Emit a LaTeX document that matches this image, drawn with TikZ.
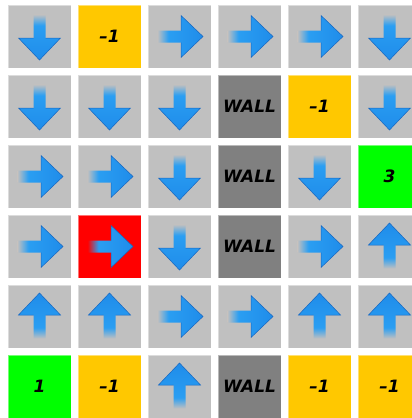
\documentclass[tikz,border=0pt]{standalone}
\usepackage{fontspec}
\setmainfont{DejaVu Sans}
\usepackage{tikz}

\definecolor{cellgray}{HTML}{C0C0C0}
\definecolor{wallgray}{HTML}{808080}
\definecolor{pitorange}{HTML}{FFC800}
\definecolor{goalgreen}{HTML}{00FF00}
\definecolor{startred}{HTML}{FF0000}
\colorlet{arrtail}{cellgray}
\definecolor{arrmid}{HTML}{2A9EF2}
\definecolor{arrtip}{HTML}{1F8CEA}
\definecolor{arredge}{HTML}{1565C0}

% the tail colour is taken from the cell behind the arrow
\pgfdeclarehorizontalshading[arrtail]{arrfade}{100bp}{color(0bp)=(arrtail); color(25bp)=(arrtail); color(37bp)=(arrmid); color(75bp)=(arrtip); color(100bp)=(arrtip)}

\newcommand{\arrbody}{(-22,-6) -- (1.5,-6) -- (1.5,-21) -- (23.5,0) -- (1.5,21) -- (1.5,6) -- (-22,6) -- cycle}
\newcommand{\arrhead}{(1.5,-6) -- (1.5,-21) -- (23.5,0) -- (1.5,21) -- (1.5,6)}

\tikzset{
  cell/.style={minimum size=63pt, inner sep=0pt, fill=cellgray, draw=white, draw opacity=0.45, line width=0.8pt,
    font=\bfseries\itshape\fontsize{17}{17}\selectfont},
  wall/.style={cell, fill=wallgray},
  pit/.style={cell, fill=pitorange},
  goal/.style={cell, fill=goalgreen},
  start/.style={cell, fill=startred},
  pics/arrright/.style={code={
    \path[shading=arrfade, shading angle=0] \arrbody;
    \draw[arredge, line width=0.5pt] \arrhead;}},
  pics/arrdown/.style={code={
    \begin{scope}[rotate=-90]
    \path[shading=arrfade, shading angle=-90] \arrbody;
    \draw[arredge, line width=0.5pt] \arrhead;
    \end{scope}}},
  pics/arrup/.style={code={
    \begin{scope}[rotate=90]
    \path[shading=arrfade, shading angle=90] \arrbody;
    \draw[arredge, line width=0.5pt] \arrhead;
    \end{scope}}}
}

\begin{document}
\begin{tikzpicture}[x=1pt, y=-1pt]
  \useasboundingbox[fill=white] (0,0) rectangle (412,418);
  \clip (0,0) rectangle (412,418);

  % row 0
  \node[cell] (r0c0) at (39.5,36.5) {}; \pic at (r0c0) {arrdown};
  \node[pit] (r0c1) at (109.5,36.5) {–1};
  \node[cell] (r0c2) at (179.5,36.5) {}; \pic at (r0c2) {arrright};
  \node[cell] (r0c3) at (249.5,36.5) {}; \pic at (r0c3) {arrright};
  \node[cell] (r0c4) at (319.5,36.5) {}; \pic at (r0c4) {arrright};
  \node[cell] (r0c5) at (389.5,36.5) {}; \pic at (r0c5) {arrdown};

  % row 1
  \node[cell] (r1c0) at (39.5,106.5) {}; \pic at (r1c0) {arrdown};
  \node[cell] (r1c1) at (109.5,106.5) {}; \pic at (r1c1) {arrdown};
  \node[cell] (r1c2) at (179.5,106.5) {}; \pic at (r1c2) {arrdown};
  \node[wall] (r1c3) at (249.5,106.5) {WALL};
  \node[pit] (r1c4) at (319.5,106.5) {–1};
  \node[cell] (r1c5) at (389.5,106.5) {}; \pic at (r1c5) {arrdown};

  % row 2
  \node[cell] (r2c0) at (39.5,176.5) {}; \pic at (r2c0) {arrright};
  \node[cell] (r2c1) at (109.5,176.5) {}; \pic at (r2c1) {arrright};
  \node[cell] (r2c2) at (179.5,176.5) {}; \pic at (r2c2) {arrdown};
  \node[wall] (r2c3) at (249.5,176.5) {WALL};
  \node[cell] (r2c4) at (319.5,176.5) {}; \pic at (r2c4) {arrdown};
  \node[goal] (r2c5) at (389.5,176.5) {3};

  % row 3
  \node[cell] (r3c0) at (39.5,246.5) {}; \pic at (r3c0) {arrright};
  \node[start] (r3c1) at (109.5,246.5) {};
  \begin{scope}\colorlet{arrtail}{startred}\pic at (r3c1) {arrright};\end{scope}
  \node[cell] (r3c2) at (179.5,246.5) {}; \pic at (r3c2) {arrdown};
  \node[wall] (r3c3) at (249.5,246.5) {WALL};
  \node[cell] (r3c4) at (319.5,246.5) {}; \pic at (r3c4) {arrright};
  \node[cell] (r3c5) at (389.5,246.5) {}; \pic at (r3c5) {arrup};

  % row 4
  \node[cell] (r4c0) at (39.5,316.5) {}; \pic at (r4c0) {arrup};
  \node[cell] (r4c1) at (109.5,316.5) {}; \pic at (r4c1) {arrup};
  \node[cell] (r4c2) at (179.5,316.5) {}; \pic at (r4c2) {arrright};
  \node[cell] (r4c3) at (249.5,316.5) {}; \pic at (r4c3) {arrright};
  \node[cell] (r4c4) at (319.5,316.5) {}; \pic at (r4c4) {arrup};
  \node[cell] (r4c5) at (389.5,316.5) {}; \pic at (r4c5) {arrup};

  % row 5
  \node[goal] (r5c0) at (39.5,386.5) {1};
  \node[pit] (r5c1) at (109.5,386.5) {–1};
  \node[cell] (r5c2) at (179.5,386.5) {}; \pic at (r5c2) {arrup};
  \node[wall] (r5c3) at (249.5,386.5) {WALL};
  \node[pit] (r5c4) at (319.5,386.5) {–1};
  \node[pit] (r5c5) at (389.5,386.5) {–1};
\end{tikzpicture}
\end{document}
